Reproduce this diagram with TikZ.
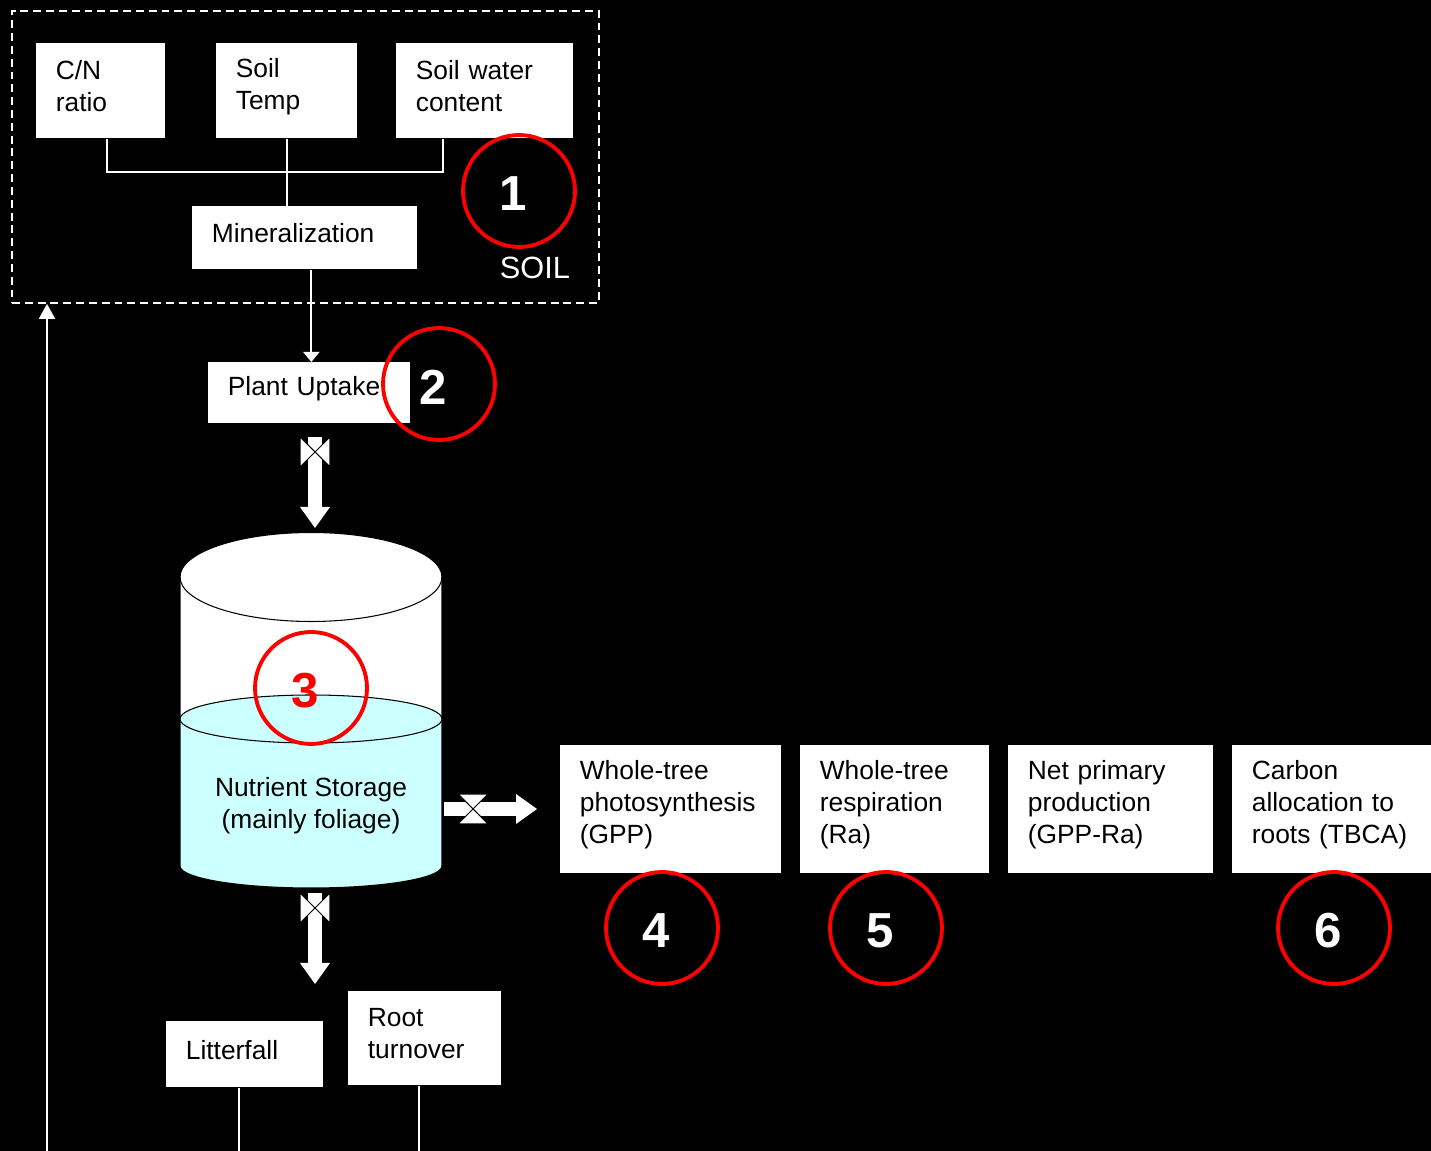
\documentclass[tikz,border=0pt]{standalone}
\usepackage{fontspec}
\setmainfont{Liberation Sans}
\usetikzlibrary{arrows.meta}
\definecolor{liquid}{HTML}{CCFFFF}

\tikzset{
  box/.style={fill=white, anchor=north west, align=left, inner xsep=0.39cm,
    inner ysep=0pt, font=\fontsize{15}{18.2}\selectfont,
    execute at end node={\par\vspace*{0.18cm}}},
  conn/.style={draw=white, line width=1pt},
  soilbox/.style={draw=white, line width=1.1pt, dash pattern=on 4.5pt off 2.8pt,
    anchor=north west},
  num/.style={circle, draw=red, line width=2.2pt, minimum size=2.24cm, inner sep=0pt,
    label={[text=white, font=\fontsize{28}{28}\selectfont\bfseries,
      xshift=-0.12cm, yshift=-0.06cm]center:#1}},
  pics/valve/.style={code={
    \fill[white] (-7,0) rectangle (7,#1);
    \fill[white] (-15,#1) -- (15,#1) -- (0,#1+21) -- cycle;
    \filldraw[fill=white, draw=black, line width=0.6pt] (-15,0) -- (0,15) -- (-15,30) -- cycle;
    \filldraw[fill=white, draw=black, line width=0.6pt] (15,0) -- (0,15) -- (15,30) -- cycle;
  }},
}

\begin{document}
\begin{tikzpicture}[x=0.02cm,y=-0.02cm]
\fill[black] (0,0) rectangle (1431,1151);
\useasboundingbox (0,0) rectangle (1431,1151);

    % soil compartment
    \node[soilbox, minimum width=11.74cm, minimum height=5.84cm] (soil) at (11,10) {};
    \node[text=white, font=\fontsize{17.5}{20}\selectfont] (soillabel) at (535,268) {SOIL};

    \node[box, text width=1.8cm, minimum height=1.9cm] (cn) at (36,43) {C/N\\ratio};
    \node[box, text width=2.04cm, minimum height=1.9cm] (temp) at (216,43) {Soil\\Temp};
    \node[box, text width=2.76cm, minimum height=1.9cm] (water) at (396,43) {Soil water\\content};
    \node[box, text width=3.72cm, minimum height=1.26cm] (mineral) at (192,206) {Mineralization};

    \coordinate (bus) at (287,172);
    \draw[conn] ([xshift=0.13cm]cn.south) |- (bus) -| ([xshift=-0.83cm]water.south);
    \draw[conn] (temp.south) -- (temp.south |- mineral.north);

    % uptake
    \node[box, text width=3.26cm, minimum height=1.22cm] (uptake) at (208,362) {Plant Uptake};
    \draw[conn,-{Triangle[width=0.32cm,length=0.2cm]}] ([xshift=0.13cm]mineral.south)
        -- ([xshift=0.13cm]mineral.south |- uptake.north);

    \pic at (315,437) {valve=70};

    % storage tank
    \fill[white] (180,577) rectangle (442,719);
    \fill[white] (311,577) ellipse [x radius=2.62cm, y radius=0.89cm];
    \fill[liquid] (180,719) -- (180,866)
        arc [start angle=180, end angle=360, x radius=2.62cm, y radius=0.44cm]
        -- (442,719) -- cycle;
    \draw[black, line width=0.6pt] (180,577) -- (180,866)
        arc [start angle=180, end angle=360, x radius=2.62cm, y radius=0.44cm]
        -- (442,577);
    \filldraw[fill=liquid, draw=black, line width=0.6pt] (311,719) ellipse [x radius=2.62cm, y radius=0.48cm];
    \draw[black, line width=0.6pt] (311,577) ellipse [x radius=2.62cm, y radius=0.89cm];
    \node[align=center, font=\fontsize{15}{18.2}\selectfont] (storage) at (311,806)
        {Nutrient Storage\\(mainly foliage)};

    \pic at (315,893) {valve=70};
    \fill[white] (444,802) rectangle (460,816);
    \pic[rotate=90] at (458,809) {valve=58};

    % carbon fluxes
    \node[box, text width=3.64cm, minimum height=2.56cm] (gpp) at (560,745)
        {Whole-tree\\photosynthesis\\(GPP)};
    \node[box, text width=3cm, minimum height=2.56cm] (ra) at (800,745)
        {Whole-tree\\respiration\\(Ra)};
    \node[box, text width=3.32cm, minimum height=2.56cm] (npp) at (1008,745)
        {Net primary\\production\\(GPP-Ra)};
    \node[box, text width=3.2cm, minimum height=2.56cm] (tbca) at (1232,745)
        {Carbon\\allocation to\\roots (TBCA)};

    % returns
    \node[box, text width=2.36cm, minimum height=1.32cm] (litter) at (166,1021) {Litterfall};
    \node[box, text width=2.28cm, minimum height=1.88cm] (roots) at (348,991) {Root\\turnover};

    \coordinate (loop) at (47,1151);
    \draw[conn] ([xshift=-0.11cm]litter.south) -- ([xshift=-0.11cm]litter.south |- loop);
    \draw[conn] ([xshift=-0.11cm]roots.south) -- ([xshift=-0.11cm]roots.south |- loop);
    \draw[conn,-{Triangle[width=0.32cm,length=0.3cm]}] (loop) -- (loop |- soil.south);

    % numbered markers
    \node[num=1] (c1) at (519,191) {};
    \node[num=2] (c2) at (439,384) {};
    \node[num={\textcolor{red}{3}}] (c3) at (311,688) {};
    \node[num=4] (c4) at (662,928) {};
    \node[num=5] (c5) at (886,928) {};
    \node[num=6] (c6) at (1334,928) {};
\end{tikzpicture}
\end{document}
